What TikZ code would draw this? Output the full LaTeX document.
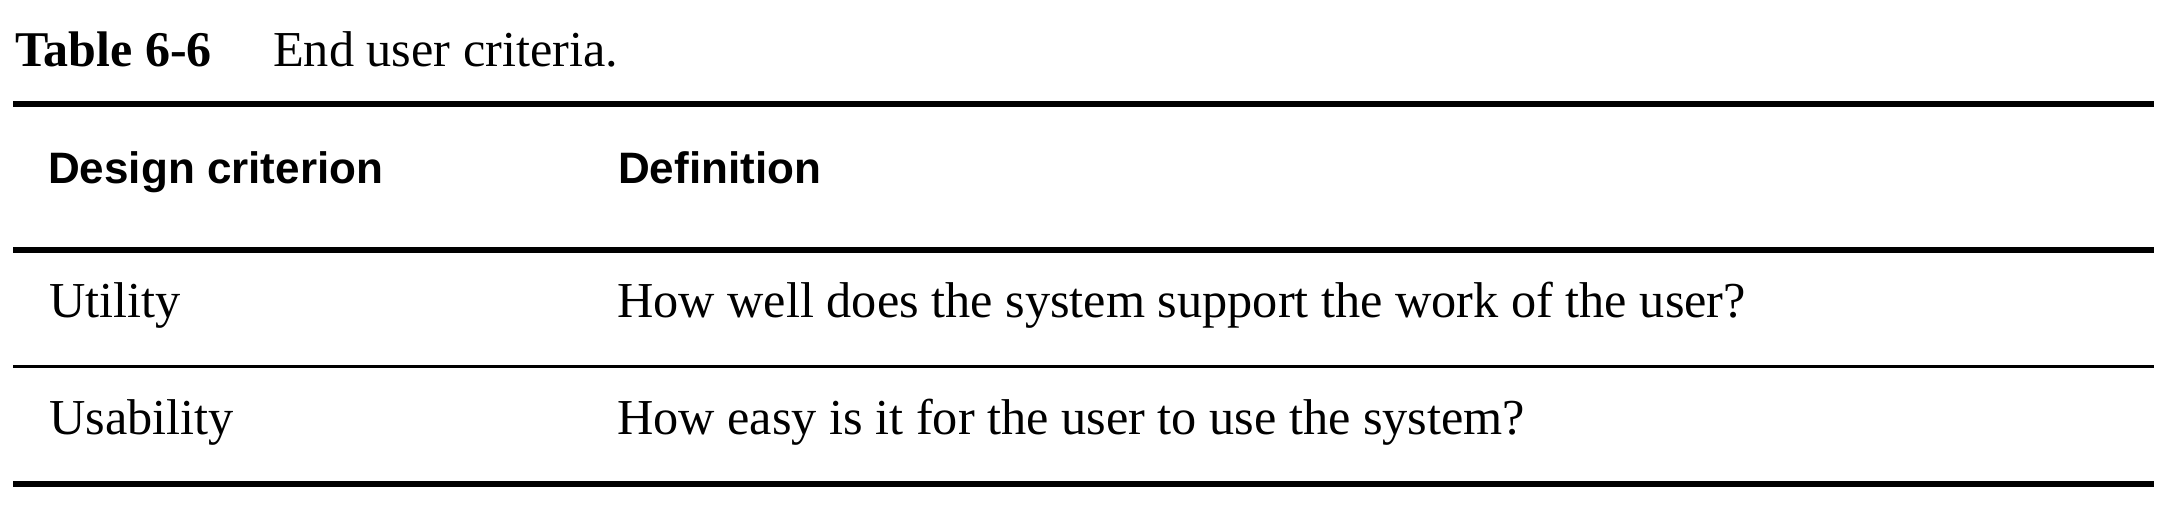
\documentclass[tikz,border=0pt]{standalone}
\usepackage{fontspec}
\setmainfont{Liberation Serif}
\newfontfamily\hdfont{Liberation Sans}
\begin{document}
\begin{tikzpicture}[x=1pt,y=-1pt,
  txt/.style={anchor=base west,inner sep=0pt,font=\fontsize{50.3}{60}\selectfont},
  hd/.style={anchor=base west,inner sep=0pt,font=\hdfont\bfseries\fontsize{44}{52}\selectfont},
  thick rule/.style={line width=6pt},
  thin rule/.style={line width=3pt}]
\useasboundingbox (0,0) rectangle (2182,518);
\node[txt,font=\bfseries\fontsize{50}{60}\selectfont] (tnum) at (15,67) {Table 6-6};
\node[txt] (ttl) at (273,67) {End user criteria.};
\coordinate (r1l) at (13,104); \coordinate (r1r) at (2154,104);
\coordinate (r2l) at (13,250); \coordinate (r2r) at (2154,250);
\coordinate (r3l) at (13,366.5); \coordinate (r3r) at (2154,366.5);
\coordinate (r4l) at (13,484); \coordinate (r4r) at (2154,484);
\draw[thick rule] (r1l) -- (r1r);
\draw[thick rule] (r2l) -- (r2r);
\draw[thin rule] (r3l) -- (r3r);
\draw[thick rule] (r4l) -- (r4r);
\node[hd] (h1) at (48,184) {Design criterion};
\node[hd] (h2) at (618,184) {Definition};
\node[txt] (c1) at (49,318) {Utility};
\node[txt] (d1) at (617,318) {How well does the system support the work of the user?};
\node[txt] (c2) at (49,435) {Usability};
\node[txt] (d2) at (617,435) {How easy is it for the user to use the system?};
\end{tikzpicture}
\end{document}
